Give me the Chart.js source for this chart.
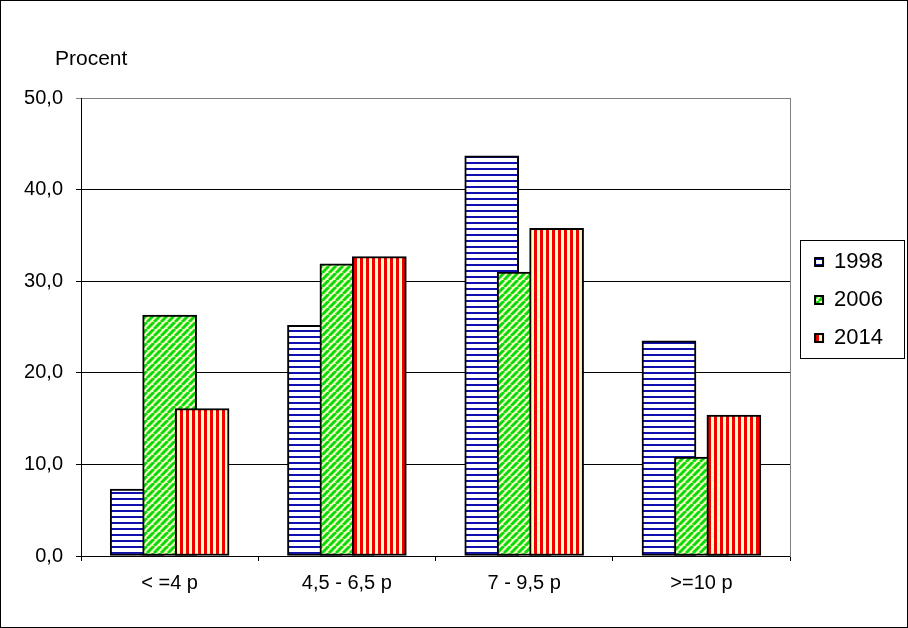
<!DOCTYPE html>
<html lang="sv">
<head>
    <meta charset="UTF-8">
    <title>Procent</title>
    <style>
        body {
            margin: 0;
            background: #fff;
        }

        .chart-container {
            width: 908px;
            height: 628px;
            position: relative;
        }
    </style>
</head>
<body>
    <div class="chart-container">
        <canvas id="pointsChart"></canvas>
    </div>

    <script src="https://cdn.jsdelivr.net/npm/chart.js"></script>
    <script>
        const categories = ['< =4 p', '4,5 - 6,5 p', '7 - 9,5 p', '>=10 p'];
        const years = ['1998', '2006', '2014'];
        const values1998 = [7.3, 25.2, 43.7, 23.5];
        const values2006 = [26.3, 31.9, 31.0, 10.8];
        const values2014 = [16.1, 32.7, 35.8, 15.4];
        const yTicks = [0, 10, 20, 30, 40, 50];

        // bars overlap like in the old Excel chart, shifted within each group
        const shifts = [-0.183, 0, 0.183];

        function makePattern(draw, w, h) {
            const c = document.createElement('canvas');
            c.width = w;
            c.height = h;
            draw(c.getContext('2d'), w, h);
            return c.getContext('2d').createPattern(c, 'repeat');
        }

        const ctx = document.getElementById('pointsChart').getContext('2d');

        const blueStripes = makePattern((g, w, h) => {
            g.fillStyle = '#ffffff';
            g.fillRect(0, 0, w, h);
            g.fillStyle = '#1010b0';
            g.fillRect(0, 0, w, 2);
        }, 6, 6);

        const greenStripes = makePattern((g, w, h) => {
            g.fillStyle = '#f4ffc4';
            g.fillRect(0, 0, w, h);
            g.strokeStyle = '#0cd80c';
            g.lineWidth = 3;
            for (let k = -1; k <= 1; k++) {
                g.beginPath();
                g.moveTo(k * w, h);
                g.lineTo(k * w + w, 0);
                g.stroke();
            }
        }, 7, 7);

        const redStripes = makePattern((g, w, h) => {
            g.fillStyle = '#ffffc4';
            g.fillRect(0, 0, w, h);
            g.fillStyle = '#f00000';
            g.fillRect(0, 0, 3, h);
        }, 6, 6);

        const seriesValues = [values1998, values2006, values2014];
        const fills = [blueStripes, greenStripes, redStripes];
        const drawOrder = [3, 2, 1];

        const datasets = years.map((year, s) => ({
            label: year,
            data: seriesValues[s].map((v, i) => ({ x: i + shifts[s], y: v })),
            xAxisID: 'xb',
            yAxisID: 'y',
            backgroundColor: fills[s],
            borderColor: '#000000',
            borderWidth: 2,
            borderSkipped: false,
            barThickness: 54,
            grouped: false,
            order: drawOrder[s]
        }));

        const frame = {
            id: 'frame',
            afterLayout(chart) {
                // "Procent" sits a little left of the y axis line
                const t = chart.titleBlock;
                t.left = chart.chartArea.left - 26;
            },
            beforeDraw(chart) {
                const c = chart.ctx;
                c.save();
                c.fillStyle = '#ffffff';
                c.fillRect(0, 0, chart.width, chart.height);
                c.restore();
            },
            afterDraw(chart) {
                const c = chart.ctx;
                const lg = chart.legend;
                c.save();
                c.strokeStyle = '#000000';
                c.lineWidth = 1;
                c.strokeRect(0.5, 0.5, chart.width - 1, chart.height - 1);
                const cy = (lg.top + lg.bottom) / 2;
                c.strokeRect(Math.round(lg.left) + 1.5, Math.round(cy - 60) + 0.5, 104, 118);
                c.restore();
            }
        };

        Chart.defaults.font.family = "'Liberation Sans', Arial, sans-serif";
        Chart.defaults.font.size = 20;
        Chart.defaults.color = '#000000';

        new Chart(ctx, {
            type: 'bar',
            data: {
                labels: categories,
                datasets: datasets
            },
            options: {
                responsive: true,
                maintainAspectRatio: false,
                animation: false,
                layout: {
                    padding: { left: 0, right: 15, top: 0, bottom: 28 }
                },
                plugins: {
                    title: {
                        display: true,
                        text: 'Procent',
                        align: 'start',
                        color: '#000000',
                        font: { size: 21, weight: 'normal' },
                        padding: { top: 47, bottom: 26 }
                    },
                    legend: {
                        position: 'right',
                        labels: {
                            boxWidth: 8,
                            boxHeight: 8,
                            padding: 16,
                            font: { size: 22 },
                            sort: (a, b) => a.datasetIndex - b.datasetIndex
                        }
                    },
                    tooltip: { enabled: false }
                },
                scales: {
                    x: {
                        type: 'category',
                        offset: true,
                        grid: {
                            offset: true,
                            drawOnChartArea: false,
                            tickLength: 5,
                            color: '#000000'
                        },
                        border: { color: '#000000' },
                        ticks: { padding: 10, maxRotation: 0 },
                        afterFit: (scale) => { scale.height = 44; }
                    },
                    xb: {
                        type: 'linear',
                        display: false,
                        offset: false,
                        min: -0.5,
                        max: categories.length - 0.5
                    },
                    y: {
                        min: yTicks[0],
                        max: yTicks[yTicks.length - 1],
                        afterBuildTicks: (scale) => {
                            scale.ticks = yTicks.map(v => ({ value: v }));
                        },
                        ticks: {
                            padding: 13,
                            callback: (v) => v.toFixed(1).replace('.', ',')
                        },
                        grid: {
                            tickLength: 5,
                            color: (c) => c.tick && c.tick.value === 50 ? '#808080' : '#000000'
                        },
                        border: { color: '#000000' },
                        afterFit: (scale) => { scale.width = 81; }
                    },
                    yr: {
                        type: 'linear',
                        position: 'right',
                        grid: { drawOnChartArea: false, drawTicks: false },
                        ticks: { display: false },
                        border: { color: '#808080' },
                        afterFit: (scale) => { scale.width = 9; }
                    }
                }
            },
            plugins: [frame]
        });
    </script>
</body>
</html>
